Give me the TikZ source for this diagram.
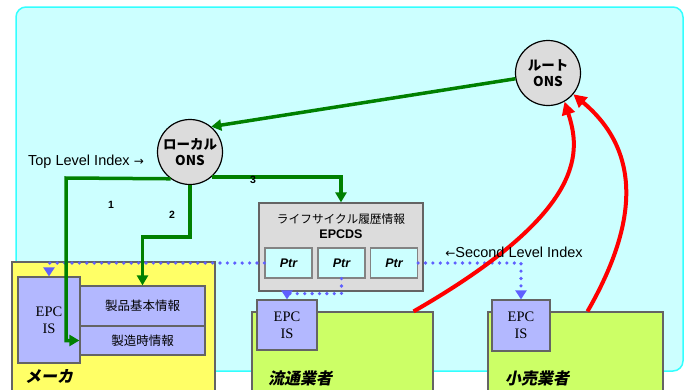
\documentclass[tikz,border=0pt]{standalone}
\usepackage{fontspec}
\setmainfont{Liberation Sans}
\newfontfamily\jfont{Noto Sans CJK JP}
\newfontfamily\jslfont{Noto Sans CJK JP}[FakeSlant=0.2]
\newfontfamily\serfont{Liberation Serif}
\newfontfamily\symfont{DejaVu Sans}
\usetikzlibrary{arrows.meta,calc,positioning}
\definecolor{SkyCyan}{RGB}{204,255,255}
\definecolor{SkyEdge}{RGB}{51,255,255}
\definecolor{NodeGray}{RGB}{220,220,220}
\definecolor{EdgeGray}{RGB}{100,100,100}
\definecolor{MakerYellow}{RGB}{255,255,102}
\definecolor{ShopGreen}{RGB}{204,255,102}
\definecolor{IsBlue}{RGB}{179,184,255}
\definecolor{DotBlue}{RGB}{95,95,255}
\definecolor{FlowGreen}{RGB}{0,128,0}

\begin{document}
\begin{tikzpicture}[x=1pt,y=-1pt,
    box/.style={draw=EdgeGray,line width=1.2pt,inner sep=0pt},
    ons/.style={circle,draw=black,line width=1.2pt,fill=NodeGray,inner sep=0pt,
      minimum size=65pt,align=center,font=\jfont\bfseries\fontsize{13.5}{16}\selectfont},
    epcis/.style={box,fill=IsBlue,align=center,font=\serfont\fontsize{14.5}{17}\selectfont},
    ptrbox/.style={box,fill=SkyCyan,draw=EdgeGray!80,minimum width=47pt,minimum height=30pt,
      font=\bfseries\itshape\fontsize{12.5}{14}\selectfont},
    jbox/.style={box,fill=IsBlue,minimum width=125pt,font=\jfont\fontsize{12.5}{14}\selectfont},
    flow/.style={-{Triangle[width=11pt,length=10pt]},line width=3.5pt,FlowGreen},
    query/.style={-{Triangle[width=13pt,length=13pt]},line width=4pt,red},
    ptrlink/.style={-{Triangle[width=11pt,length=9pt]},DotBlue,line width=3.6pt,
      line cap=round,dash pattern=on 0pt off 7.4pt},
    owner/.style={font=\jslfont\bfseries\fontsize{16}{18}\selectfont},
    num/.style={font=\bfseries\fontsize{10.5}{12}\selectfont},
    note/.style={font=\fontsize{14.5}{16}\selectfont}]
  \useasboundingbox (0,0) rectangle (689,389);
  \clip (0,0) rectangle (689,389);
  % network area
  \draw[fill=SkyCyan,draw=SkyEdge,line width=1.5pt,rounded corners=10pt]
    (16,7) rectangle (683,371);

  % companies
  \node[box,fill=MakerYellow,minimum width=203pt,minimum height=133pt] (maker) at (113.5,328.5) {};
  \node[box,fill=ShopGreen,minimum width=181pt,minimum height=83pt] (dist) at (342.5,353.5) {};
  \node[box,fill=ShopGreen,minimum width=175pt,minimum height=83pt] (retail) at (575.5,353.5) {};
  \node[owner] (makerlbl) at (49,376) {メーカ};
  \node[owner] (distlbl) at (300,378) {流通業者};
  \node[owner] (retaillbl) at (537,378) {小売業者};

  \node[epcis,minimum width=62pt,minimum height=86pt] (mepc) at (49,320) {EPC\\IS};
  \node[epcis,minimum width=60pt,minimum height=50pt] (depc) at (287,325) {EPC\\IS};
  \node[epcis,minimum width=58pt,minimum height=51pt] (repc) at (521,325.5) {EPC\\IS};
  \node[jbox,minimum height=40pt] (kihon) at (142.5,306) {製品基本情報};
  \node[jbox,minimum height=29pt] (seizo) at (142.5,340.5) {製造時情報};

  % EPCDS
  \node[box,fill=NodeGray,minimum width=164pt,minimum height=88pt] (epcds) at (341,247) {};
  \node[font=\jfont\fontsize{11.7}{13}\selectfont] (epcdstitle) at (341,219) {ライフサイクル履歴情報};
  \node[font=\bfseries\fontsize{12.5}{14}\selectfont] (epcdsname) at (341,234.5) {EPCDS};
  \node[ptrbox] (ptr1) at (288.5,263) {Ptr};
  \node[ptrbox] (ptr2) at (341.5,263) {Ptr};
  \node[ptrbox] (ptr3) at (394,263) {Ptr};

  % ONS
  \node[ons] (root) at (548,73) {ルート\\ONS};
  \node[ons] (local) at (190,152) {ローカル\\ONS};

  % pointers
  \draw[ptrlink] (ptr1.west) -| (mepc.north);
  \draw[ptrlink] (ptr2.south) -- ++(0,15) -| (depc.north);
  \draw[ptrlink] (ptr3.east) -| (repc.north);

  % lookups
  \coordinate (bend1) at (66,178);
  \draw[flow] (root.190) -- (local.50);
  \draw[flow] (local.234) -- (bend1) |- (seizo.west);
  \draw[flow] (local.south) -- ++(0,52) -| (kihon.north);
  \draw[flow] (local.311) -| (epcds.north);
  \node[num] (n1) at (111,205) {1};
  \node[num] (n2) at (172,215) {2};
  \node[num] (n3) at (253,180) {3};

  \draw[query] ([xshift=-20pt]dist.north east) .. controls (590,210) and (580,150) .. (root.300);
  \draw[query] ([xshift=12pt]retail.north) .. controls (640,220) and (640,150) .. (root.320);

  \node[note] (toplbl) at (86,162) {Top Level Index {\symfont\fontsize{12}{14}\selectfont →}};
  \node[note] (secondlbl) at (514,252) {{\symfont\fontsize{12}{14}\selectfont ←}Second Level Index};
\end{tikzpicture}
\end{document}
